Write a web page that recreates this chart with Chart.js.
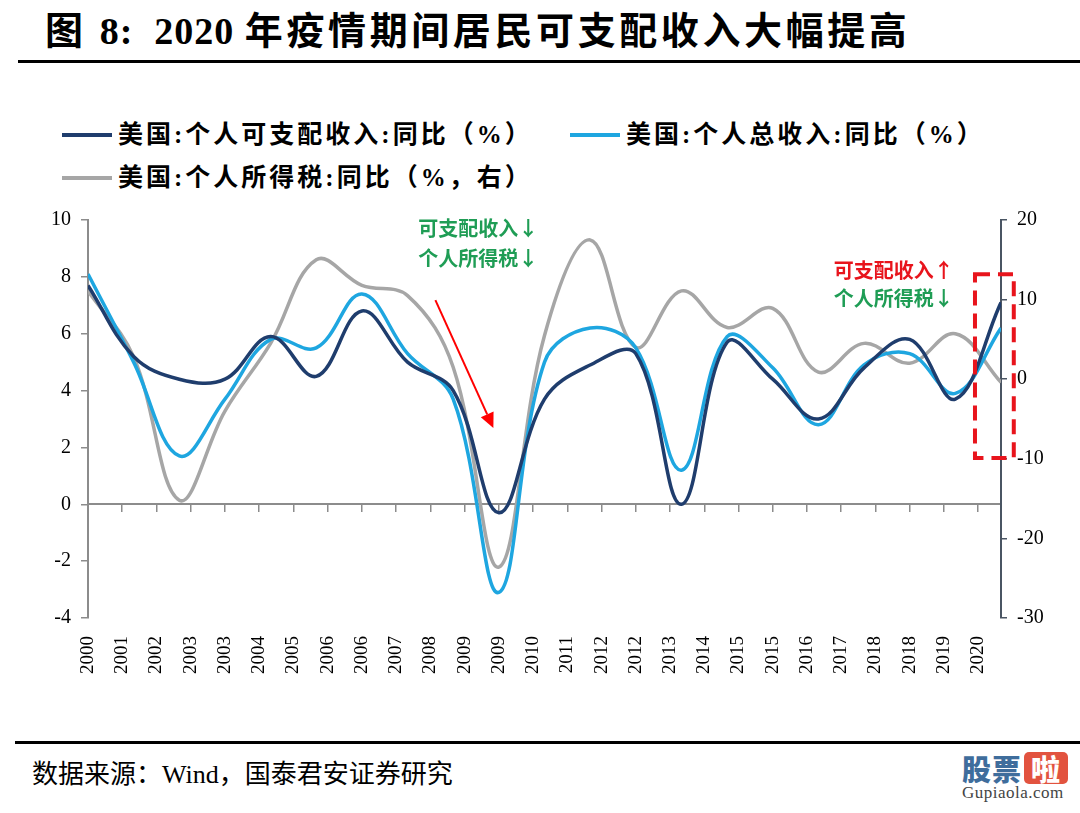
<!DOCTYPE html>
<html>
<head>
<meta charset="utf-8">
<script src="https://cdn.jsdelivr.net/npm/chart.js@4.4.0/dist/chart.umd.min.js"></script>
<style>
  body { margin: 0; background: #fff; width: 1080px; height: 813px; overflow: hidden; position: relative;
         font-family: "Liberation Serif", "Noto Sans CJK SC", serif; color: #000; }
  #title { position: absolute; left: 45px; top: 8px; font-size: 38px; font-weight: bold; letter-spacing: 3.6px; line-height: 46px; white-space: nowrap; }
  #title .num { letter-spacing: 1px; }
  .rule { position: absolute; right: 0; background: #000; }
  #topRule { left: 18px; top: 60px; height: 3px; }
  #bottomRule { left: 15px; top: 741px; height: 3px; }
  #source { position: absolute; left: 32px; top: 758px; font-size: 26px; line-height: 34px; white-space: nowrap; }
  .leg { position: absolute; font-size: 25px; font-weight: bold; line-height: 30px; letter-spacing: 3px; white-space: nowrap; }
  .leg i { display: inline-block; width: 50px; height: 4px; vertical-align: middle; margin-right: 6px; position: relative; top: -2px; }
  #wrap { position: absolute; left: 0; top: 195px; width: 1080px; height: 500px; }
  #logo { position: absolute; left: 962px; top: 752px; width: 118px; }
  #logo .cn { font-family: "Noto Sans CJK SC"; font-weight: 900; font-size: 29px; line-height: 32px; color: #3f6d9c; letter-spacing: 1px; }
  #logo .la { display: inline-block; background: #e2533f; color: #fff; border-radius: 5px; width: 44px; text-align: center; margin-left: 2px; }
  #logo .en { font-size: 17px; color: #444; line-height: 18px; letter-spacing: 0.5px; }
</style>
</head>
<body>
<div id="title">图 <span class="num">8:&nbsp;&nbsp;2020&nbsp;</span>年疫情期间居民可支配收入大幅提高</div>
<div class="rule" id="topRule"></div>

<div class="leg" style="left:62px;top:120px;"><i style="background:#1f3d6d"></i>美国:个人可支配收入:同比（%）</div>
<div class="leg" style="left:570px;top:120px;"><i style="background:#1ea6e0"></i>美国:个人总收入:同比（%）</div>
<div class="leg" style="left:62px;top:163px;"><i style="background:#a6a6a6"></i>美国:个人所得税:同比（%，右）</div>

<div id="wrap"><canvas id="chart"></canvas></div>

<div class="rule" id="bottomRule"></div>
<div id="source">数据来源：Wind，国泰君安证券研究</div>
<div id="logo"><div class="cn">股票<span class="la">啦</span></div><div class="en">Gupiaola.com</div></div>

<script>
// annual data, YoY %
var years = [2000, 2001, 2002, 2003, 2004, 2005, 2006, 2007, 2008, 2009, 2010,
             2011, 2012, 2013, 2014, 2015, 2016, 2017, 2018, 2019, 2020];
var disposableIncome = [7.7, 5.2, 4.4, 4.4, 5.9, 4.5, 6.8, 5.0, 4.0, -0.3, 3.7,
                        4.9, 5.3, 0.0, 5.7, 4.4, 3.0, 4.8, 5.8, 3.7, 7.1];
var personalIncome = [8.1, 5.0, 1.7, 3.7, 5.8, 5.5, 7.4, 5.3, 3.7, -3.1, 5.0,
                      6.2, 5.5, 1.2, 5.9, 4.8, 2.8, 4.9, 5.3, 3.9, 6.2];
var incomeTax = [11.1, 2.8, -15.2, -4.0, 4.5, 15.0, 11.8, 10.5, 1.5, -23.6, 5.5,
                 17.5, 4.0, 11.1, 6.5, 8.9, 0.9, 4.5, 2.0, 5.7, -0.4];

// date axis labels (Excel date axis, one label every 0.75 year)
var xTickLabels = ['2000', '2001', '2002', '2003', '2003', '2004', '2005', '2006', '2006',
                   '2007', '2008', '2009', '2009', '2010', '2011', '2012', '2012', '2013',
                   '2014', '2015', '2015', '2016', '2017', '2018', '2018', '2019', '2020'];
var xTickStep = 0.75;

var seriesNames = ['美国:个人可支配收入:同比（%）', '美国:个人总收入:同比（%）', '美国:个人所得税:同比（%，右）'];
var seriesColors = ['#1f3d6d', '#1ea6e0', '#a6a6a6'];

// annotations (data coordinates)
var noteTexts = [
  { text: '可支配收入↓', x: 2008.55, y: 9.72, color: '#1f9d55' },
  { text: '个人所得税↓', x: 2008.55, y: 8.66, color: '#1f9d55' },
  { text: '可支配收入↑', x: 2017.65, y: 8.24, color: '#e8141c' },
  { text: '个人所得税↓', x: 2017.65, y: 7.25, color: '#1f9d55' }
];
var noteArrow = { x0: 2007.61, y0: 7.18, x1: 2008.88, y1: 2.68 };
var noteBox = { x0: 2019.43, x1: 2020.28, top: 13.2, bottom: -9.9 };

function points(values) {
  return values.map(function (v, i) { return { x: years[i], y: v }; });
}

function tickPositions() {
  return xTickLabels.map(function (l, i) { return { value: years[0] + i * xTickStep }; });
}

var notesPlugin = {
  id: 'notes',
  afterDatasetsDraw: function (chart) {
    var ctx = chart.ctx;
    var sx = chart.scales.x, sy = chart.scales.y, sy1 = chart.scales.y1;
    ctx.save();

    ctx.font = 'bold 20px "Noto Sans CJK SC"';
    ctx.textAlign = 'center';
    ctx.textBaseline = 'middle';
    noteTexts.forEach(function (n) {
      ctx.fillStyle = n.color;
      ctx.fillText(n.text, sx.getPixelForValue(n.x), sy.getPixelForValue(n.y));
    });

    // red arrow
    var ax0 = sx.getPixelForValue(noteArrow.x0), ay0 = sy.getPixelForValue(noteArrow.y0);
    var ax1 = sx.getPixelForValue(noteArrow.x1), ay1 = sy.getPixelForValue(noteArrow.y1);
    var ang = Math.atan2(ay1 - ay0, ax1 - ax0);
    var headLen = 15, headW = 7;
    var bx = ax1 - headLen * Math.cos(ang), by = ay1 - headLen * Math.sin(ang);
    ctx.strokeStyle = '#ff0000';
    ctx.fillStyle = '#ff0000';
    ctx.lineWidth = 2;
    ctx.beginPath();
    ctx.moveTo(ax0, ay0);
    ctx.lineTo(bx, by);
    ctx.stroke();
    ctx.beginPath();
    ctx.moveTo(ax1, ay1);
    ctx.lineTo(bx + headW * Math.sin(ang), by - headW * Math.cos(ang));
    ctx.lineTo(bx - headW * Math.sin(ang), by + headW * Math.cos(ang));
    ctx.closePath();
    ctx.fill();

    // dashed box around 2020
    var rx0 = sx.getPixelForValue(noteBox.x0), rx1 = sx.getPixelForValue(noteBox.x1);
    var ry0 = sy1.getPixelForValue(noteBox.top), ry1 = sy1.getPixelForValue(noteBox.bottom);
    ctx.strokeStyle = '#e8141c';
    ctx.lineWidth = 4;
    ctx.setLineDash([15, 8]);
    ctx.strokeRect(rx0, ry0, rx1 - rx0, ry1 - ry0);
    ctx.restore();
  }
};

var tickFont = { family: '"Liberation Serif", serif', size: 20 };
var axisGray = '#8c8c8c';

new Chart(document.getElementById('chart'), {
  type: 'line',
  data: {
    datasets: [
      { label: seriesNames[0], data: points(disposableIncome), borderColor: seriesColors[0], yAxisID: 'y' },
      { label: seriesNames[1], data: points(personalIncome), borderColor: seriesColors[1], yAxisID: 'y' },
      { label: seriesNames[2], data: points(incomeTax), borderColor: seriesColors[2], yAxisID: 'y1' }
    ]
  },
  options: {
    responsive: true,
    maintainAspectRatio: false,
    animation: false,
    layout: { padding: { top: 25, left: 0, right: 0, bottom: 0 } },
    elements: {
      line: { borderWidth: 3.5, tension: 0.38, fill: false },
      point: { radius: 0, hoverRadius: 0 }
    },
    plugins: { legend: { display: false }, tooltip: { enabled: false } },
    scales: {
      x: {
        type: 'linear',
        position: { y: 0 },
        min: 2000,
        max: 2020,
        afterBuildTicks: function (s) { s.ticks = tickPositions(); },
        ticks: { display: false, autoSkip: false },
        grid: { drawOnChartArea: false, drawTicks: true, tickLength: 7, color: axisGray, lineWidth: 1.5 },
        border: { display: true, color: axisGray, width: 2 }
      },
      x2: {
        type: 'linear',
        position: 'bottom',
        min: 2000,
        max: 2020,
        afterBuildTicks: function (s) { s.ticks = tickPositions(); },
        afterFit: function (s) { s.height = 77; },
        ticks: {
          autoSkip: false, minRotation: 90, maxRotation: 90, padding: 10,
          font: { family: '"Liberation Serif", serif', size: 19 }, color: '#000',
          callback: function (v, i) { return xTickLabels[i]; }
        },
        grid: { display: false },
        border: { display: false }
      },
      y: {
        position: 'left',
        min: -4,
        max: 10,
        afterFit: function (s) { s.width = 88; },
        ticks: { stepSize: 2, padding: 10, font: tickFont, color: '#000' },
        grid: { drawOnChartArea: false, drawTicks: true, tickLength: 7, color: axisGray, lineWidth: 1.5 },
        border: { display: true, color: axisGray, width: 2 }
      },
      y1: {
        position: 'right',
        min: -30,
        max: 20,
        afterFit: function (s) { s.width = 79; },
        ticks: { stepSize: 10, padding: 10, font: tickFont, color: '#000' },
        grid: { drawOnChartArea: false, drawTicks: true, tickLength: 6, color: '#4a5563', lineWidth: 1.5 },
        border: { display: true, color: '#4a5563', width: 2 }
      }
    }
  },
  plugins: [notesPlugin]
});
</script>
</body>
</html>
